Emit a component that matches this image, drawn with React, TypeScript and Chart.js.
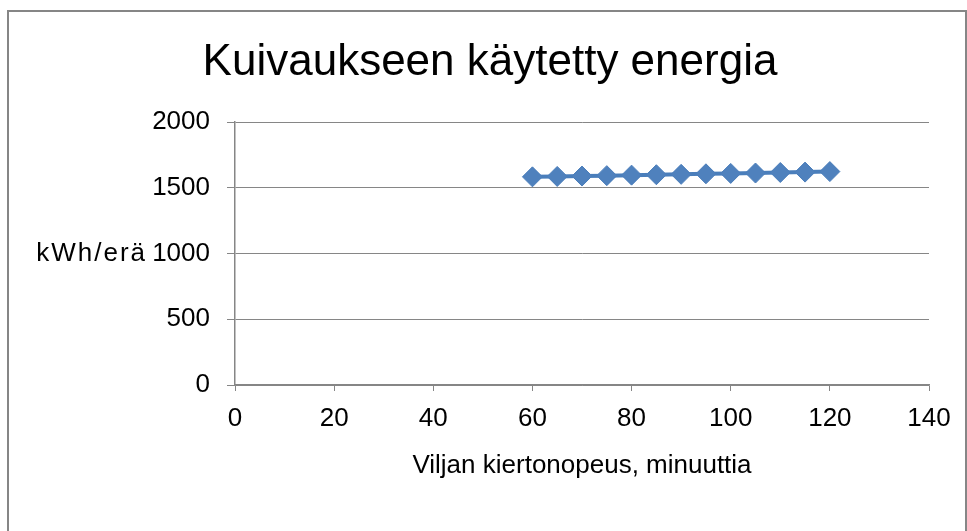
import React, { useEffect, useRef } from "react";
import { Chart, registerables } from "chart.js";

Chart.register(...registerables);

const TITLE = "Kuivaukseen käytetty energia";
const X_TITLE = "Viljan kiertonopeus, minuuttia";
const Y_TITLE = "kWh/erä";
const speeds = [60, 65, 70, 75, 80, 85, 90, 95, 100, 105, 110, 115, 120];
const energy = [1583, 1586, 1589, 1592, 1596, 1599, 1602, 1606, 1609, 1612, 1616, 1619, 1623];
const X_MIN = 0, X_MAX = 140, X_STEP = 20;
const Y_MIN = 0, Y_MAX = 2000, Y_STEP = 500;

const FONT = '"Liberation Sans", Arial, sans-serif';
const GRAY = "#868686";
const FS = 26;

export default function App() {
  const ref = useRef<HTMLCanvasElement | null>(null);
  useEffect(() => {
    const canvas = ref.current!;
    const deco = {
      id: "deco",
      beforeDraw(chart: any) {
        const c = chart.ctx;
        c.save();
        c.fillStyle = "#ffffff";
        c.fillRect(0, 0, chart.width, chart.height);
        c.strokeStyle = GRAY;
        c.lineWidth = 2;
        c.strokeRect(8, 11, 958, 560);
        c.restore();
      },
      afterDraw(chart: any) {
        const c = chart.ctx;
        c.save();
        c.fillStyle = "#000000";
        c.font = `44px ${FONT}`;
        c.textAlign = "center";
        c.textBaseline = "alphabetic";
        c.fillText(TITLE, 490, 75);
        c.font = `${FS}px ${FONT}`;
        (c as any).letterSpacing = "2px";
        c.textAlign = "right";
        c.textBaseline = "middle";
        c.fillText(Y_TITLE, 147, chart.scales.y.getPixelForValue(1000));
        c.restore();
      },
    };
    const chart = new Chart(canvas, {
      type: "scatter",
      data: {
        datasets: [
          {
            data: speeds.map((x, i) => ({ x, y: energy[i] })),
            showLine: true,
            borderColor: "#4A7EBB",
            backgroundColor: "#4F81BD",
            borderWidth: 4,
            pointStyle: "rectRot",
            pointRadius: 10,
            pointHoverRadius: 10,
            pointBorderWidth: 1,
            pointBorderColor: "#4A7EBB",
            pointBackgroundColor: "#4F81BD",
          },
        ],
      },
      options: {
        responsive: false,
        animation: false,
        devicePixelRatio: 1,
        events: [],
        layout: { padding: { left: 0, top: 122, right: 38, bottom: 0 } },
        plugins: { legend: { display: false }, title: { display: false }, tooltip: { enabled: false } },
        scales: {
          x: {
            type: "linear",
            min: X_MIN,
            max: X_MAX,
            afterFit: (s: any) => { s.height = 146; },
            ticks: { stepSize: X_STEP, color: "#000", font: { family: FONT, size: FS }, padding: 12, maxRotation: 0, callback: (v: any) => String(v) },
            grid: { drawOnChartArea: false, drawTicks: true, tickLength: 6, color: GRAY, lineWidth: 1 },
            border: { color: GRAY, width: 1.5 },
            title: { display: true, text: X_TITLE, color: "#000", font: { family: FONT, size: FS }, padding: { top: 0, bottom: 50 } },
          },
          y: {
            type: "linear",
            min: Y_MIN,
            max: Y_MAX,
            afterFit: (s: any) => { s.width = 235; },
            ticks: { stepSize: Y_STEP, color: "#000", font: { family: FONT, size: FS }, padding: 17, callback: (v: any) => String(v) },
            grid: { drawTicks: true, tickLength: 8, color: GRAY, lineWidth: 1 },
            border: { color: GRAY, width: 1.5 },
          },
        },
      },
      plugins: [deco],
    } as any);
    return () => chart.destroy();
  }, []);
  return (
    <div style={{ position: "absolute", left: 0, top: 0, width: 967, height: 531 }}>
      <canvas ref={ref} width={967} height={531} style={{ display: "block" }} />
    </div>
  );
}
